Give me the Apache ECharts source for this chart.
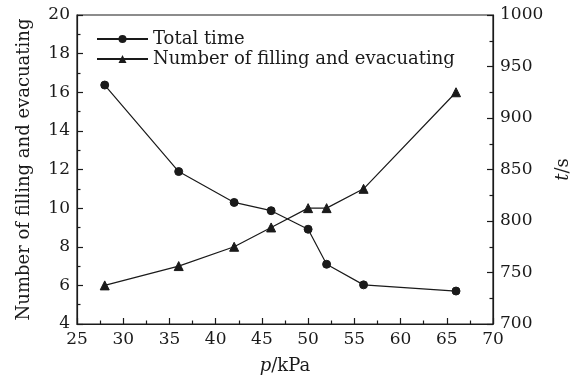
<!DOCTYPE html>
<html>
<head>
<meta charset="utf-8">
<script src="https://cdn.jsdelivr.net/npm/echarts@6/dist/echarts.min.js"></script>
<style>
  html, body { margin: 0; padding: 0; background: #fff; }
  #chart { width: 581px; height: 380px; }
</style>
</head>
<body>
<div id="chart"></div>
<script>
// Pressure values (kPa)
const pressure = [28, 36, 42, 46, 50, 52, 56, 66];
// Total time (s), right axis
const totalTime = [932, 848, 818, 810, 792, 758, 738, 732];
// Number of filling and evacuating cycles, left axis
const cycles = [6, 7, 8, 9, 10, 10, 11, 16];

const FONT = 'DejaVu Serif';
const INK = '#1a1a1a';
const TICK_SIZE = 17;
const TEXT_SIZE = 18;

const pairs = (xs, ys) => xs.map((x, i) => [x, ys[i]]);

const chart = echarts.init(document.getElementById('chart'));

const axisCommon = {
  axisLine: { show: true, lineStyle: { color: INK, width: 1.2 } },
  axisTick: { show: true, inside: true, length: 6, lineStyle: { color: INK, width: 1.2 } },
  minorTick: { show: true, splitNumber: 2, length: 3.5, lineStyle: { color: INK, width: 1.2 } },
  splitLine: { show: false },
  axisLabel: { color: INK, fontFamily: FONT, fontSize: TICK_SIZE, margin: 7, formatter: v => String(v) },
  nameTextStyle: { color: INK, fontFamily: FONT, fontSize: TEXT_SIZE }
};

const italic = { fontStyle: 'italic', fontFamily: FONT, fontSize: TEXT_SIZE, color: INK };

chart.setOption({
  animation: false,
  backgroundColor: '#fff',
  grid: {
    left: 77, right: 88, top: 15, bottom: 56,
    show: true, borderColor: INK, borderWidth: 1.2, backgroundColor: 'transparent'
  },
  legend: {
    orient: 'vertical',
    left: 96, top: 30, padding: 0,
    itemWidth: 51, itemHeight: 10, itemGap: 2,
    textStyle: { color: INK, fontFamily: FONT, fontSize: TEXT_SIZE },
    data: ['Total time', 'Number of filling and evacuating']
  },
  xAxis: Object.assign({}, axisCommon, {
    type: 'value', min: 25, max: 70, interval: 5,
    name: '{i|p}/kPa', nameLocation: 'middle', nameGap: 33,
    nameTextStyle: Object.assign({}, axisCommon.nameTextStyle, { rich: { i: italic } })
  }),
  yAxis: [
    Object.assign({}, axisCommon, {
      type: 'value', min: 4, max: 20, interval: 2, position: 'left',
      name: 'Number of filling and evacuating', nameLocation: 'middle',
      nameGap: 44, nameRotate: 90
    }),
    Object.assign({}, axisCommon, {
      type: 'value', min: 700, max: 1000, interval: 50, position: 'right',
      name: '{i|t}/s', nameLocation: 'middle', nameGap: 45, nameRotate: 90,
      nameTextStyle: Object.assign({}, axisCommon.nameTextStyle, { rich: { i: italic } })
    })
  ],
  series: [
    {
      name: 'Total time', type: 'line', yAxisIndex: 1,
      data: pairs(pressure, totalTime),
      symbol: 'circle', symbolSize: 8,
      lineStyle: { color: INK, width: 1.2 },
      itemStyle: { color: INK, borderColor: INK }
    },
    {
      name: 'Number of filling and evacuating', type: 'line', yAxisIndex: 0,
      data: pairs(pressure, cycles),
      symbol: 'triangle', symbolSize: 9,
      lineStyle: { color: INK, width: 1.2 },
      itemStyle: { color: INK, borderColor: INK }
    }
  ]
});
</script>
</body>
</html>
